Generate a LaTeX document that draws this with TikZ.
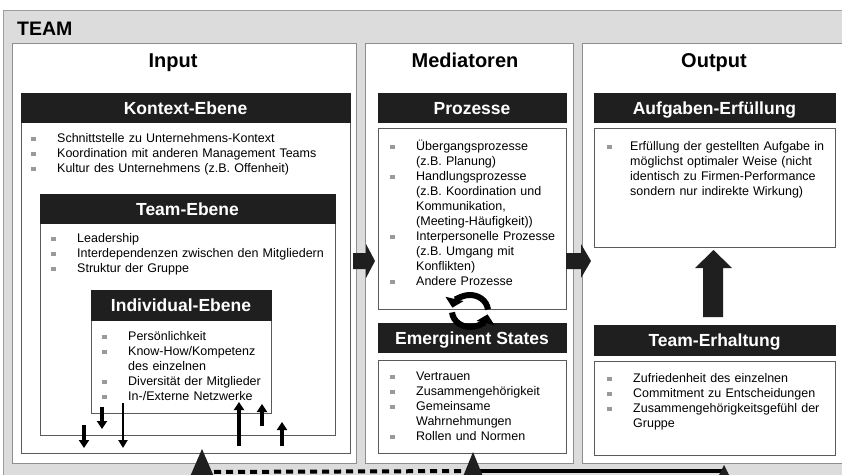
\documentclass[tikz,border=0pt]{standalone}
\usepackage{fontspec}
\setmainfont{Liberation Sans}
\usetikzlibrary{arrows.meta}

\definecolor{framegray}{HTML}{DCDCDC}
\definecolor{framedraw}{HTML}{9E9E9E}
\definecolor{paneldraw}{HTML}{8E8E8E}
\definecolor{hdr}{HTML}{1F1F1F}
\definecolor{boxline}{HTML}{5A5A5A}
\definecolor{bulgray}{HTML}{9A9A9A}

% bullet item with hanging indent
\newcommand\bst{\rule[-3pt]{0pt}{14.5pt}}
\newcommand\bitem[1][26pt]{\par\hangindent=#1\hangafter=1\noindent\bst\makebox[#1][l]{\textcolor{bulgray}{\rule[1pt]{4.5pt}{4.5pt}}}\ignorespaces}

\tikzset{
  panel/.style={draw=paneldraw, line width=1pt, fill=white},
  cbox/.style={draw=boxline, line width=0.9pt, fill=white},
  hdrbox/.style={fill=hdr, draw=hdr, text=white, inner sep=0pt,
    font=\fontsize{17.5}{20}\selectfont\bfseries, text height=13pt, text depth=0pt},
  title/.style={anchor=base, inner sep=0pt, font=\fontsize{20}{24}\selectfont\bfseries},
  btext/.style={anchor=north west, inner sep=0pt, text width=#1, align=left,
    font=\fontsize{12.5}{15}\selectfont},
  smallarr/.style={line width=3.4pt, -{Triangle[width=10pt,length=8pt]}},
  thinarr/.style={line width=2.2pt, -{Triangle[width=9pt,length=8pt]}},
  cycarr/.style={line width=6pt, -{Triangle[width=18pt,length=9pt]}},
  fbdash/.style={line width=4pt, dash pattern=on 7pt off 5pt},
  fbsolid/.style={line width=4pt},
}

\begin{document}
\begin{tikzpicture}[x=1pt,y=-1pt]
\useasboundingbox (0,0) rectangle (842,474);

% outer team frame
\draw[fill=framegray, draw=framedraw, line width=1pt] (3,10) rectangle (880,500);
\node[anchor=base west, inner sep=0pt, font=\fontsize{19.5}{22}\selectfont\bfseries] (team) at (17,35) {TEAM};

% three panels
\draw[panel] (12,43) rectangle (356,463);
\draw[panel] (365,43) rectangle (573,463);
\draw[panel] (582,43) rectangle (880,463);

\node[title] (input) at (173,67) {Input};
\node[title] (medi) at (465,67) {Mediatoren};
\node[title] (output) at (714,67) {Output};

% ---- Input: nested levels
\draw[cbox] (21,122) rectangle (350,453);
\node[hdrbox, minimum width=329pt, minimum height=29pt] (kontext) at (185.5,107.5) {Kontext-Ebene};
\node[btext=315pt] (kontexttxt) at (31,127) {%
\bitem Schnittstelle zu Unternehmens-Kontext
\bitem Koordination mit anderen Management Teams
\bitem Kultur des Unternehmens (z.B. Offenheit)\par};

\draw[cbox] (40,223) rectangle (335,435);
\node[hdrbox, minimum width=295pt, minimum height=29pt] (teamebene) at (187.5,208.5) {Team-Ebene};
\node[btext=280pt] (teamtxt) at (51,227) {%
\bitem Leadership
\bitem Interdependenzen zwischen den Mitgliedern
\bitem Struktur der Gruppe\par};

\draw[cbox] (91,320) rectangle (271,413);
\node[hdrbox, minimum width=180pt, minimum height=30pt] (indiv) at (181,305) {Individual-Ebene};
\node[btext=168pt] (indivtxt) at (102,325) {%
\bitem Persönlichkeit
\bitem Know-How/Kompetenz\newline des einzelnen
\bitem Diversität der Mitglieder
\bitem In-/Externe Netzwerke\par};

% small influence arrows between the levels
\coordinate (a1s) at (84,425);  \coordinate (a1e) at (84,448);
\coordinate (a2s) at (102,407); \coordinate (a2e) at (102,429);
\coordinate (a3s) at (123,403); \coordinate (a3e) at (123,448);
\coordinate (a4s) at (239,446); \coordinate (a4e) at (239,402);
\coordinate (a5s) at (262,426); \coordinate (a5e) at (262,404);
\coordinate (a6s) at (282,446); \coordinate (a6e) at (282,422);
\draw[smallarr] (a1s) -- (a1e);
\draw[smallarr] (a2s) -- (a2e);
\draw[thinarr]  (a3s) -- (a3e);
\draw[smallarr] (a4s) -- (a4e);
\draw[smallarr] (a5s) -- (a5e);
\draw[smallarr] (a6s) -- (a6e);

% ---- Mediatoren
\node[hdrbox, minimum width=188pt, minimum height=29pt] (prozesse) at (472,107.5) {Prozesse};
\draw[cbox] (378,128) rectangle (566,309);
\node[btext=172pt] (prozessetxt) at (390,135) {%
\bitem Übergangsprozesse\newline (z.B. Planung)
\bitem Handlungsprozesse\newline (z.B. Koordination und\newline Kommunikation,\newline (Meeting-Häufigkeit))
\bitem Interpersonelle Prozesse\newline (z.B. Umgang mit\newline Konflikten)
\bitem Andere Prozesse\par};

\node[hdrbox, minimum width=188pt, minimum height=29pt] (states) at (472,337.5) {Emerginent States};
\draw[cbox] (378,360) rectangle (566,453);
\node[btext=172pt] (statestxt) at (390,365) {%
\bitem Vertrauen
\bitem Zusammengehörigkeit
\bitem Gemeinsame\newline Wahrnehmungen
\bitem Rollen und Normen\par};

% cycle between processes and states
\coordinate (cyc) at (470,311);
\draw[cycarr] ([shift={(-5:18 and 16)}]cyc) arc[start angle=-5, end angle=-168, x radius=18, y radius=16];
\draw[cycarr] ([shift={(175:18 and 16)}]cyc) arc[start angle=175, end angle=12, x radius=18, y radius=16];

% ---- Output
\node[hdrbox, minimum width=241pt, minimum height=29pt] (aufgaben) at (714.5,107.5) {Aufgaben-Erfüllung};
\draw[cbox] (594,128) rectangle (835,247);
\node[btext=225pt] (aufgabentxt) at (607,135) {%
\bitem[23pt] Erfüllung der gestellten Aufgabe in\newline möglichst optimaler Weise (nicht\newline identisch zu Firmen-Performance\newline sondern nur indirekte Wirkung)\par};

\node[hdrbox, minimum width=241pt, minimum height=30pt] (erhaltung) at (714.5,340) {Team-Erhaltung};
\draw[cbox] (594,361) rectangle (835,455);
\node[btext=225pt] (erhaltungtxt) at (607,367) {%
\bitem Zufriedenheit des einzelnen
\bitem Commitment zu Entscheidungen
\bitem Zusammengehörigkeitsgefühl der\newline Gruppe\par};

% block arrows
\fill[hdr] (353,253) -- (366,253) -- (366,244) -- (375,261) -- (366,278) -- (366,269) -- (353,269) -- cycle;
\fill[hdr] (566,253) -- (581,253) -- (581,244) -- (591,261) -- (581,278) -- (581,269) -- (566,269) -- cycle;
\fill[hdr] (703,317) -- (703,268) -- (695,268) -- (713.5,250) -- (732,268) -- (723,268) -- (723,317) -- cycle;

% feedback line along the bottom
\coordinate (fb1) at (202,472);
\coordinate (fb2) at (473,471);
\coordinate (fb3) at (724,471);
\draw[fbdash] (fb1) -- (fb2);
\draw[fbsolid] (fb2) -- (fb3);
\fill[hdr] (202,449) -- (215,479) -- (189,479) -- cycle;
\fill[hdr] (473,452) -- (484,479) -- (462,479) -- cycle;
\fill[hdr] (724,465) -- (731,479) -- (717,479) -- cycle;
\end{tikzpicture}
\end{document}
